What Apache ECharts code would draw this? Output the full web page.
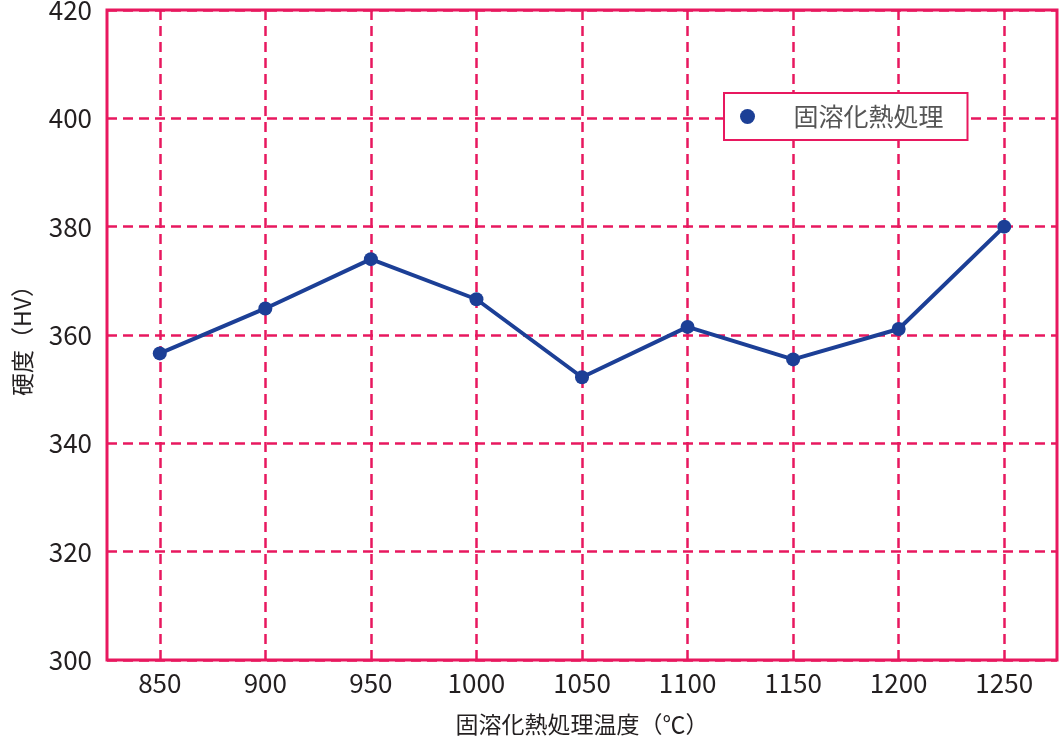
<!DOCTYPE html>
<html>
<head>
<meta charset="utf-8">
<script src="https://cdn.jsdelivr.net/npm/echarts@6/dist/echarts.min.js"></script>
<style>
	html, body { margin: 0; padding: 0; background: #fff; }
	#chart { width: 1059px; height: 741px; }
</style>
</head>
<body>
<div id="chart"></div>
<script>
	var temperatures = ['850', '900', '950', '1000', '1050', '1100', '1150', '1200', '1250'];
	var hardness = [356.6, 364.9, 374.0, 366.6, 352.2, 361.5, 355.5, 361.1, 380.0];
	var series_name = '固溶化熱処理';

	var pink = '#e8185f';
	var blue = '#1c3f96';
	var text_color = '#231f20';
	var font = '"Noto Sans CJK JP", "Noto Sans", sans-serif';

	var chart = echarts.init(document.getElementById('chart'));
	var options = {
		animation: false,
		textStyle: { fontFamily: font },
		grid: {
			left: 107,
			right: 2,
			top: 10,
			bottom: 81,
			outerBoundsMode: 'none',
			show: true,
			borderColor: pink,
			borderWidth: 3
		},
		legend: {
			left: 724,
			top: 93,
			data: [series_name],
			icon: 'circle',
			itemWidth: 28,
			itemHeight: 15,
			padding: [11, 24, 11, 16],
			borderColor: pink,
			borderWidth: 2,
			backgroundColor: '#fff',
			textStyle: {
				color: '#555',
				fontSize: 25,
				fontFamily: font,
				padding: [0, 0, 0, 27]
			}
		},
		xAxis: {
			type: 'category',
			data: temperatures,
			boundaryGap: true,
			name: '固溶化熱処理温度（℃）',
			nameLocation: 'center',
			nameGap: 53,
			nameTextStyle: { color: text_color, fontSize: 23, fontFamily: font },
			axisLine: { show: false },
			axisTick: { show: false },
			axisLabel: { color: text_color, fontSize: 26, margin: 10, fontFamily: font },
			splitLine: { show: false }
		},
		yAxis: {
			type: 'value',
			min: 300,
			max: 420,
			interval: 20,
			name: '硬度（HV）',
			nameLocation: 'center',
			nameRotate: 90,
			nameGap: 73,
			nameTextStyle: { color: text_color, fontSize: 23, fontFamily: font },
			axisLine: { show: false },
			axisTick: { show: false },
			axisLabel: { color: text_color, fontSize: 26, margin: 15, fontFamily: font },
			splitLine: {
				lineStyle: { color: pink, width: 2.5, type: [10, 6] }
			}
		},
		series: [{
			name: series_name,
			type: 'line',
			data: hardness,
			symbol: 'circle',
			symbolSize: 14,
			lineStyle: { color: blue, width: 4 },
			itemStyle: { color: blue },
			z: 5,
			markLine: {
				silent: true,
				symbol: ['none', 'none'],
				label: { show: false },
				lineStyle: { color: pink, width: 2.5, type: [10, 6] },
				data: temperatures.map(function (t) { return { xAxis: t }; }),
				z: 1
			}
		}]
	};
	chart.setOption(options, true);
</script>
</body>
</html>
